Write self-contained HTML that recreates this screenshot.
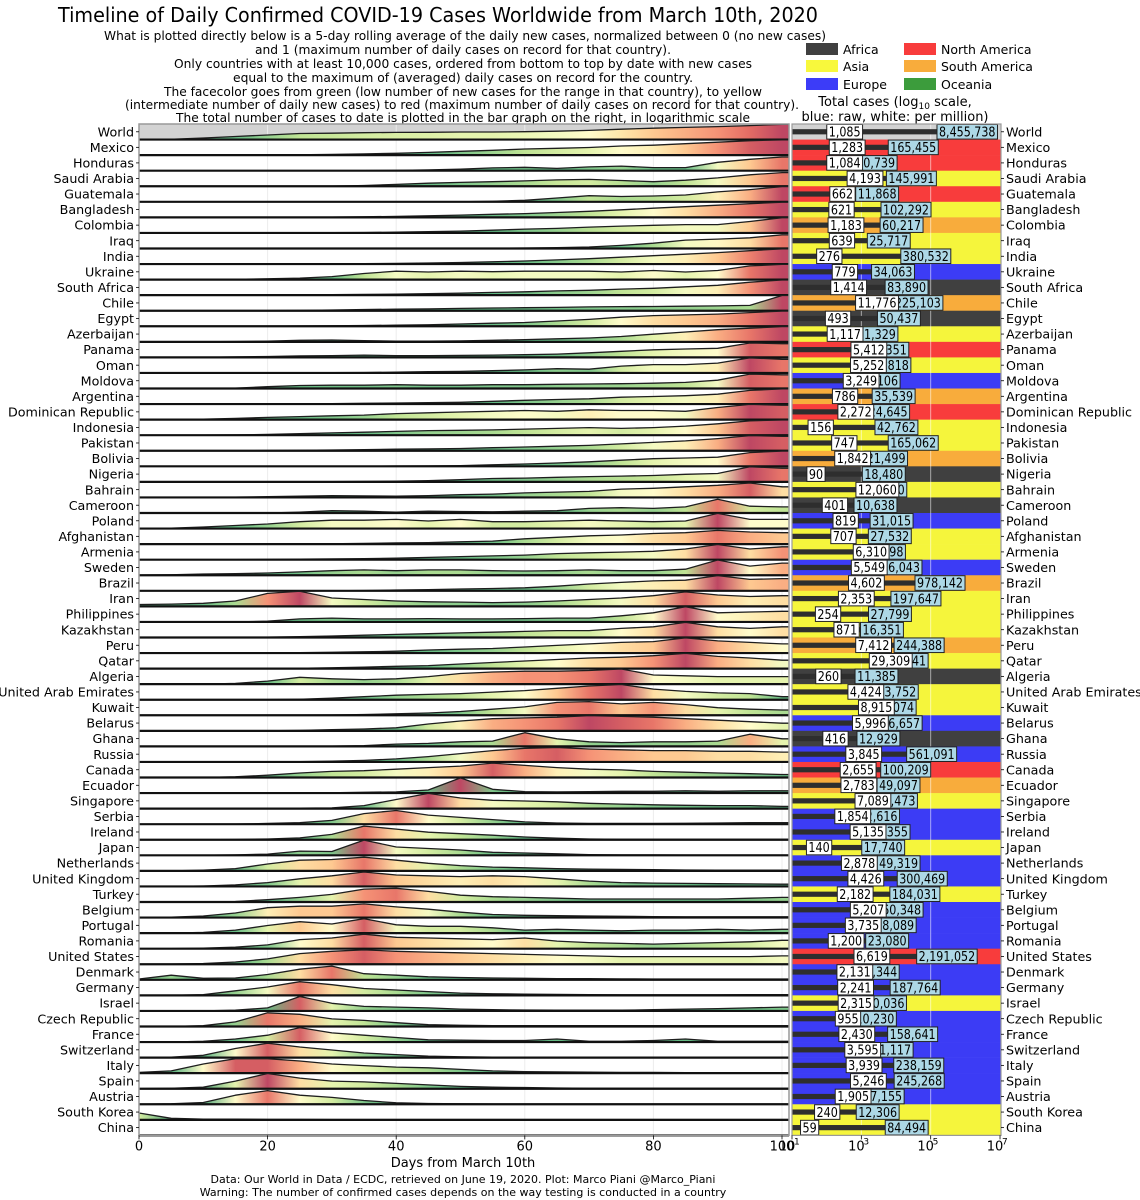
<!DOCTYPE html>
<html><head><meta charset="utf-8"><title>COVID-19 timeline</title>
<style>
html,body{margin:0;padding:0;background:#fff;}
svg{display:block;font-family:"DejaVu Sans","Liberation Sans",sans-serif;}
</style></head>
<body>
<svg id="chart" width="1140" height="1200" viewBox="0 0 1140 1200" xmlns="http://www.w3.org/2000/svg">
<text x="438" y="22" font-size="20" text-anchor="middle" textLength="760" lengthAdjust="spacingAndGlyphs">Timeline of Daily Confirmed COVID-19 Cases Worldwide from March 10th, 2020</text>
<g font-size="12.5" text-anchor="middle" fill="#000">
<text x="465" y="40" textLength="722" lengthAdjust="spacingAndGlyphs">What is plotted directly below is a 5-day rolling average of the daily new cases, normalized between 0 (no new cases)</text>
<text x="463" y="54" textLength="416" lengthAdjust="spacingAndGlyphs">and 1 (maximum number of daily cases on record for that country).</text>
<text x="463" y="68" textLength="578" lengthAdjust="spacingAndGlyphs">Only countries with at least 10,000 cases, ordered from bottom to top by date with new cases</text>
<text x="463" y="82" textLength="460" lengthAdjust="spacingAndGlyphs">equal to the maximum of (averaged) daily cases on record for the country.</text>
<text x="463" y="96" textLength="598" lengthAdjust="spacingAndGlyphs">The facecolor goes from green (low number of new cases for the range in that country), to yellow</text>
<text x="462" y="109" textLength="674" lengthAdjust="spacingAndGlyphs">(intermediate number of daily new cases) to red (maximum number of daily cases on record for that country).</text>
<text x="463" y="122" textLength="574" lengthAdjust="spacingAndGlyphs">The total number of cases to date is plotted in the bar graph on the right, in logarithmic scale</text>
</g>
<g font-size="12.5">
<rect x="806" y="43" width="32" height="12" fill="#404040"/>
<text x="843" y="54">Africa</text>
<rect x="904" y="43" width="32" height="12" fill="#f83c3c"/>
<text x="941" y="54">North America</text>
<rect x="806" y="60" width="32" height="12" fill="#f8f83c"/>
<text x="843" y="71">Asia</text>
<rect x="904" y="60" width="32" height="12" fill="#f8ac3c"/>
<text x="941" y="71">South America</text>
<rect x="806" y="78" width="32" height="12" fill="#3c3cf8"/>
<text x="843" y="89">Europe</text>
<rect x="904" y="78" width="32" height="12" fill="#3c9c3c"/>
<text x="941" y="89">Oceania</text>
<text x="895" y="106" font-size="13" text-anchor="middle">Total cases (log<tspan font-size="9" dy="3">10</tspan><tspan dy="-3"> scale,</tspan></text>
<text x="895" y="121" font-size="13" text-anchor="middle">blue: raw, white: per million)</text>
</g>
<g id="ridge"></g>
<g id="bars"></g>
<g id="axes"></g>
<text x="463" y="1167" font-size="13" text-anchor="middle">Days from March 10th</text>
<text x="463" y="1183" font-size="11" text-anchor="middle">Data: Our World in Data / ECDC, retrieved on June 19, 2020. Plot: Marco Piani @Marco_Piani</text>
<text x="463" y="1196" font-size="11" text-anchor="middle">Warning: The number of confirmed cases depends on the way testing is conducted in a country</text>
</svg>
<script>
const countries = ["World","Mexico","Honduras","Saudi Arabia","Guatemala","Bangladesh","Colombia","Iraq","India","Ukraine","South Africa","Chile","Egypt","Azerbaijan","Panama","Oman","Moldova","Argentina","Dominican Republic","Indonesia","Pakistan","Bolivia","Nigeria","Bahrain","Cameroon","Poland","Afghanistan","Armenia","Sweden","Brazil","Iran","Philippines","Kazakhstan","Peru","Qatar","Algeria","United Arab Emirates","Kuwait","Belarus","Ghana","Russia","Canada","Ecuador","Singapore","Serbia","Ireland","Japan","Netherlands","United Kingdom","Turkey","Belgium","Portugal","Romania","United States","Denmark","Germany","Israel","Czech Republic","France","Switzerland","Italy","Spain","Austria","South Korea","China"];
const continents = ["W","NA","NA","AS","NA","AS","SA","AS","AS","EU","AF","SA","AF","AS","NA","AS","EU","SA","NA","AS","AS","SA","AF","AS","AF","EU","AS","AS","EU","SA","AS","AS","AS","SA","AS","AF","AS","AS","EU","AF","EU","NA","SA","AS","EU","EU","AS","EU","EU","AS","EU","EU","EU","NA","EU","EU","AS","EU","EU","EU","EU","EU","EU","AS","AS"];
const perMillion = [1085,1283,1084,4193,662,621,1183,639,276,779,1414,11776,493,1117,5412,5252,3249,786,2272,156,747,1842,90,12060,401,819,707,6310,5549,4602,2353,254,871,7412,29309,260,4424,8915,5996,416,3845,2655,2783,7089,1854,5135,140,2878,4426,2182,5207,3735,1200,6619,2131,2241,2315,955,2430,3595,3939,5246,1905,240,59];
const totalCases = [8455738,165455,10739,145991,11868,102292,60217,25717,380532,34063,83890,225103,50437,11329,23351,26818,13106,35539,24645,42762,165062,21499,18480,20430,10638,31015,27532,18698,56043,978142,197647,27799,16351,244388,84441,11385,43752,38074,56657,12929,561091,100209,49097,41473,12616,25355,17740,49319,300469,184031,60348,38089,23080,2191052,12344,187764,20036,10230,158641,31117,238159,245268,17155,12306,84494];
const sampleDays = [0,5,10,15,20,25,30,35,40,45,50,55,60,65,70,75,80,85,90,95,100];
const dayTicks = [0,20,40,60,80,100];
const logTicks = [1,3,5,7];
const curves = [
[0,0.02,0.1,0.2,0.3,0.4,0.42,0.45,0.47,0.48,0.5,0.5,0.52,0.55,0.6,0.68,0.75,0.8,0.85,0.92,1.0],
[0,0,0,0,0,0.02,0.05,0.08,0.12,0.18,0.25,0.32,0.4,0.45,0.5,0.6,0.65,0.75,0.85,0.95,1],
[0,0,0,0,0,0,0,0,0.02,0.05,0.1,0.18,0.22,0.15,0.25,0.3,0.2,0.2,0.55,0.75,0.9],
[0,0,0,0,0,0,0,0.05,0.12,0.2,0.25,0.3,0.35,0.42,0.45,0.38,0.3,0.4,0.55,0.75,0.9],
[0,0,0,0,0,0,0,0,0,0,0,0.03,0.1,0.25,0.4,0.35,0.38,0.45,0.65,0.8,1],
[0,0,0,0,0,0,0.02,0.04,0.06,0.1,0.15,0.2,0.25,0.32,0.4,0.5,0.6,0.7,0.8,0.9,1],
[0,0,0,0,0,0.02,0.02,0.03,0.05,0.08,0.12,0.18,0.25,0.3,0.38,0.45,0.5,0.55,0.55,0.75,1],
[0,0,0,0,0,0,0.02,0.02,0.02,0.02,0.02,0.02,0.03,0.05,0.1,0.2,0.35,0.55,0.62,0.7,0.9],
[0,0,0,0,0,0,0.01,0.02,0.04,0.07,0.1,0.15,0.2,0.27,0.35,0.45,0.55,0.65,0.75,0.88,1],
[0,0,0,0.02,0.05,0.1,0.2,0.4,0.55,0.5,0.55,0.52,0.55,0.55,0.55,0.5,0.6,0.5,0.6,0.9,1],
[0,0,0,0,0,0.02,0.04,0.05,0.07,0.1,0.13,0.18,0.22,0.28,0.32,0.4,0.45,0.55,0.65,0.85,1],
[0,0,0,0,0,0.02,0.05,0.08,0.1,0.12,0.15,0.18,0.2,0.22,0.25,0.27,0.28,0.3,0.32,0.35,1],
[0,0,0,0,0,0.02,0.03,0.05,0.07,0.1,0.15,0.2,0.25,0.35,0.45,0.6,0.7,0.75,0.8,0.9,1],
[0,0,0,0.02,0.05,0.1,0.12,0.08,0.05,0.05,0.06,0.1,0.15,0.2,0.25,0.35,0.5,0.65,0.8,0.9,1],
[0,0,0,0.03,0.06,0.1,0.12,0.15,0.12,0.12,0.13,0.15,0.18,0.22,0.3,0.4,0.5,0.55,0.6,0.95,0.9],
[0,0,0,0,0,0.01,0.02,0.03,0.05,0.08,0.1,0.15,0.2,0.28,0.25,0.45,0.55,0.55,0.65,1,0.9],
[0,0,0,0.03,0.12,0.2,0.22,0.22,0.25,0.22,0.22,0.25,0.25,0.28,0.3,0.32,0.35,0.4,0.55,0.95,0.9],
[0,0,0,0,0,0.02,0.03,0.05,0.07,0.1,0.12,0.18,0.25,0.3,0.35,0.45,0.5,0.55,0.65,0.9,1],
[0,0,0.03,0.08,0.15,0.2,0.25,0.3,0.4,0.45,0.5,0.55,0.6,0.55,0.65,0.6,0.6,0.55,0.8,1,0.95],
[0,0,0,0.02,0.05,0.1,0.15,0.2,0.25,0.3,0.32,0.35,0.4,0.45,0.5,0.45,0.5,0.6,0.75,0.95,1],
[0,0,0,0,0.02,0.03,0.05,0.07,0.1,0.12,0.15,0.2,0.25,0.3,0.35,0.45,0.55,0.65,0.8,1,0.95],
[0,0,0,0,0,0,0,0,0.02,0.03,0.05,0.1,0.15,0.22,0.3,0.4,0.5,0.55,0.6,0.9,1],
[0,0,0,0,0,0,0.02,0.03,0.05,0.08,0.15,0.22,0.25,0.3,0.35,0.38,0.42,0.5,0.55,1,0.9],
[0,0,0,0.02,0.05,0.08,0.12,0.1,0.08,0.12,0.18,0.22,0.3,0.35,0.4,0.55,0.6,0.7,0.8,0.95,0.7],
[0,0,0,0,0,0.05,0.15,0.12,0.05,0.12,0.1,0.08,0.12,0.15,0.3,0.35,0.3,0.4,0.9,0.45,0.4],
[0,0.03,0.1,0.2,0.3,0.45,0.55,0.55,0.6,0.5,0.6,0.45,0.45,0.5,0.55,0.5,0.45,0.5,1,0.6,0.6],
[0,0,0,0,0,0.01,0.02,0.05,0.08,0.1,0.15,0.2,0.35,0.45,0.55,0.6,0.7,0.75,0.9,0.8,0.75],
[0,0,0,0,0.02,0.03,0.05,0.07,0.1,0.15,0.2,0.25,0.3,0.4,0.45,0.5,0.55,0.7,1,0.7,0.85],
[0,0.03,0.08,0.1,0.15,0.22,0.3,0.35,0.3,0.35,0.35,0.3,0.28,0.3,0.35,0.3,0.3,0.4,1,0.6,0.8],
[0,0,0,0,0,0,0,0.02,0.05,0.08,0.12,0.15,0.2,0.3,0.45,0.55,0.65,0.7,1,0.75,0.8],
[0.12,0.15,0.2,0.35,0.85,1,0.55,0.45,0.35,0.3,0.28,0.25,0.28,0.35,0.45,0.55,0.7,0.95,0.75,0.65,0.7],
[0,0,0,0,0.05,0.2,0.25,0.2,0.2,0.22,0.2,0.2,0.22,0.25,0.25,0.4,0.6,1,0.6,0.65,0.7],
[0,0,0,0,0.02,0.05,0.1,0.15,0.2,0.25,0.3,0.35,0.4,0.45,0.45,0.6,0.7,1,0.7,0.6,0.7],
[0,0,0,0,0,0.02,0.05,0.08,0.12,0.2,0.25,0.3,0.4,0.5,0.6,0.7,0.75,1,0.8,0.7,0.6],
[0,0,0,0,0,0.02,0.05,0.1,0.15,0.2,0.3,0.4,0.5,0.6,0.7,0.75,0.85,1,0.8,0.7,0.55],
[0,0,0,0.05,0.2,0.45,0.35,0.3,0.35,0.5,0.7,0.8,0.85,0.85,0.9,1,0.6,0.55,0.5,0.5,0.5],
[0,0,0,0,0,0.03,0.1,0.2,0.3,0.35,0.4,0.5,0.6,0.75,0.9,1,0.7,0.55,0.45,0.4,0.2],
[0,0,0,0,0,0.01,0.02,0.05,0.1,0.15,0.25,0.4,0.55,0.85,0.9,0.75,0.85,0.7,0.5,0.4,0.35],
[0,0,0,0,0,0.03,0.08,0.12,0.2,0.45,0.65,0.8,0.85,0.9,1,0.95,0.9,0.8,0.7,0.6,0.5],
[0,0,0,0,0,0,0.02,0.05,0.15,0.2,0.3,0.35,0.9,0.5,0.3,0.25,0.3,0.3,0.35,0.8,0.5],
[0,0,0,0,0,0.02,0.05,0.1,0.2,0.35,0.55,0.75,0.9,0.95,0.85,0.8,0.75,0.75,0.7,0.7,0.65],
[0,0,0,0.05,0.15,0.3,0.4,0.45,0.55,0.65,0.75,0.95,0.8,0.65,0.55,0.5,0.4,0.35,0.3,0.25,0.2],
[0,0,0,0,0,0,0.02,0.05,0.08,0.2,1,0.25,0.1,0.08,0.1,0.12,0.12,0.15,0.12,0.15,0.15],
[0,0,0,0,0.02,0.03,0.05,0.2,0.6,1,0.7,0.55,0.5,0.45,0.35,0.3,0.25,0.22,0.2,0.2,0.15],
[0,0,0,0,0.05,0.1,0.25,0.7,0.9,0.6,0.45,0.3,0.15,0.08,0.05,0.05,0.05,0.06,0.08,0.1,0.1],
[0,0,0,0.02,0.05,0.12,0.35,0.9,0.7,0.5,0.4,0.3,0.18,0.1,0.05,0.03,0.03,0.03,0.03,0.03,0.03],
[0,0,0,0.03,0.08,0.28,0.25,1,0.55,0.45,0.35,0.2,0.15,0.1,0.05,0.03,0.03,0.02,0.02,0.02,0.02],
[0,0,0.05,0.15,0.45,0.7,0.75,0.9,0.7,0.5,0.35,0.25,0.2,0.15,0.12,0.1,0.08,0.06,0.05,0.05,0.05],
[0,0,0.03,0.1,0.25,0.5,0.7,0.95,0.75,0.7,0.65,0.7,0.65,0.5,0.35,0.25,0.22,0.2,0.18,0.17,0.15],
[0,0,0,0.03,0.15,0.3,0.5,0.85,0.9,0.7,0.45,0.35,0.3,0.25,0.2,0.2,0.2,0.2,0.2,0.25,0.3],
[0,0.03,0.1,0.3,0.65,0.75,0.75,0.9,0.7,0.55,0.35,0.2,0.15,0.12,0.1,0.08,0.06,0.05,0.05,0.05,0.05],
[0,0,0.05,0.2,0.5,0.75,0.6,0.95,0.55,0.45,0.45,0.35,0.2,0.25,0.2,0.15,0.2,0.2,0.25,0.2,0.25],
[0,0,0.03,0.1,0.25,0.6,0.7,0.95,0.75,0.7,0.65,0.6,0.7,0.5,0.4,0.35,0.3,0.35,0.4,0.45,0.55],
[0,0,0.05,0.15,0.35,0.7,0.85,0.95,0.85,0.8,0.75,0.7,0.65,0.6,0.55,0.5,0.5,0.5,0.5,0.5,0.55],
[0.05,0.3,0.1,0.12,0.35,0.7,0.9,0.4,0.3,0.2,0.15,0.12,0.1,0.08,0.07,0.06,0.05,0.05,0.05,0.05,0.05],
[0,0,0.05,0.3,0.55,0.9,0.7,0.45,0.35,0.25,0.15,0.1,0.08,0.06,0.05,0.04,0.04,0.04,0.04,0.05,0.05],
[0,0,0,0.05,0.2,0.95,0.5,0.3,0.25,0.2,0.12,0.08,0.06,0.05,0.05,0.05,0.08,0.12,0.15,0.2,0.25],
[0,0,0.05,0.3,0.9,0.8,0.5,0.4,0.25,0.12,0.08,0.06,0.05,0.05,0.05,0.05,0.05,0.05,0.05,0.05,0.05],
[0,0,0.05,0.2,0.45,0.95,0.6,0.45,0.3,0.15,0.12,0.1,0.1,0.2,0.05,0.05,0.1,0.2,0.05,0.05,0.05],
[0,0.03,0.15,0.6,0.95,0.7,0.5,0.3,0.2,0.1,0.05,0.03,0.02,0.02,0.02,0.02,0.02,0.02,0.02,0.02,0.02],
[0.05,0.15,0.6,0.95,0.95,0.8,0.6,0.5,0.4,0.35,0.25,0.15,0.1,0.08,0.06,0.05,0.05,0.04,0.03,0.03,0.03],
[0,0.03,0.1,0.5,1,0.7,0.5,0.45,0.35,0.25,0.15,0.1,0.08,0.05,0.03,0.03,0.03,0.03,0.03,0.03,0.03],
[0,0.03,0.12,0.6,0.9,0.6,0.45,0.25,0.1,0.05,0.03,0.02,0.02,0.02,0.02,0.02,0.02,0.02,0.02,0.02,0.02],
[0.45,0.1,0.05,0.05,0.03,0.03,0.02,0.02,0.02,0.02,0.02,0.02,0.02,0.02,0.02,0.02,0.02,0.02,0.02,0.02,0.02],
[0.01,0.01,0.01,0.01,0.01,0.01,0.01,0.01,0.01,0.01,0.01,0.01,0.01,0.01,0.01,0.01,0.01,0.01,0.01,0.01,0.01]
];

const NS = "http://www.w3.org/2000/svg";
const PLOT_L = 139, PLOT_R = 789, PLOT_T = 124, ROW_H = 15.56;
const PLOT_B = PLOT_T + ROW_H * countries.length;
const BAR_L = 792, BAR_R = 1001, DEC = 34.67;
function xDay(d){ return PLOT_L + d * 6.43; }
function rowTop(i){ return PLOT_T + i * ROW_H; }
function yVal(v, i){ return rowTop(i) + ROW_H - v * 15.2; }
function xLog(v){ return BAR_L + (Math.log10(v) - 1) * DEC; }
const contColor = {W:"#d2d2d2",NA:"#f83c3c",SA:"#f8ac3c",AS:"#f5f53c",EU:"#3c3cf5",AF:"#404040"};
const cmapStops = ["#006837","#1a9850","#66bd63","#a6d96a","#d9ef8b","#ffffbf","#fee08b","#fdae61","#f46d43","#d73027","#a50026"];
function hex(h){ return [parseInt(h.substr(1,2),16),parseInt(h.substr(3,2),16),parseInt(h.substr(5,2),16)]; }
function cmap(v){
  v = Math.pow(Math.max(0, Math.min(1, v)), 1.3);
  const p = v * 10, k = Math.min(9, Math.floor(p)), t = p - k;
  const a = hex(cmapStops[k]), b = hex(cmapStops[k+1]);
  const al = 0.72;
  const c = a.map((x, j) => Math.round((x + (b[j] - x) * t) * al + 255 * (1 - al)));
  return "rgb(" + c.join(",") + ")";
}
function el(tag, attrs, parent){
  const e = document.createElementNS(NS, tag);
  for (const k in attrs) e.setAttribute(k, attrs[k]);
  parent.appendChild(e);
  return e;
}
function fmt(n){ return String(n).replace(/\B(?=(\d{3})+(?!\d))/g, ","); }

const svg = document.getElementById("chart");
const defs = el("defs", {}, svg);
const ridge = document.getElementById("ridge");
const bars = document.getElementById("bars");
const axes = document.getElementById("axes");

el("rect", {x:PLOT_L, y:PLOT_T, width:PLOT_R-PLOT_L, height:PLOT_B-PLOT_T, fill:"#fff"}, ridge);
el("rect", {x:PLOT_L, y:PLOT_T, width:PLOT_R-PLOT_L, height:ROW_H, fill:"#d3d3d3"}, ridge);
dayTicks.forEach(d => {
  const g = el("line", {x1:xDay(d), x2:xDay(d), y1:PLOT_T, y2:PLOT_B, stroke:"#ececec", "stroke-width":1}, ridge);
  
  
});

countries.forEach((name, i) => {
  const vals = curves[i];
  const gid = "grad" + i;
  const grad = el("linearGradient", {id:gid, gradientUnits:"userSpaceOnUse", x1:xDay(0), x2:xDay(100), y1:0, y2:0}, defs);
  vals.forEach((v, k) => { el("stop", {offset:(sampleDays[k]/100).toFixed(3), "stop-color":cmap(v)}, grad); });
  const base = rowTop(i) + ROW_H;
  const lastY = yVal(vals[vals.length-1], i).toFixed(1);
  const pts = vals.map((v, k) => xDay(sampleDays[k]).toFixed(1) + "," + yVal(v, i).toFixed(1)).concat([PLOT_R + "," + lastY]);
  const g = el("g", {}, ridge);
  
  
  const poly = pts.concat([PLOT_R+","+base, xDay(0).toFixed(1)+","+base]);
  const area = el("polygon", {points:poly.join(" "), fill:"url(#"+gid+")"}, g);
  
  
  const line = el("polyline", {points:pts.join(" "), fill:"none", stroke:"#1e1e1e", "stroke-width":1.3, "stroke-linejoin":"round"}, g);
  
  
  const bl = el("line", {x1:PLOT_L, x2:PLOT_R, y1:base, y2:base, stroke:"#111", "stroke-width":2.2}, g);
  
  
  const lab = el("text", {x:PLOT_L-5, y:rowTop(i)+ROW_H/2+4.6, "font-size":12.7, "text-anchor":"end"}, axes);
  lab.textContent = name;
  
  
  el("line", {x1:PLOT_L-3, x2:PLOT_L, y1:rowTop(i)+ROW_H/2, y2:rowTop(i)+ROW_H/2, stroke:"#000", "stroke-width":0.8}, axes);
});
el("rect", {x:PLOT_L, y:PLOT_T, width:PLOT_R-PLOT_L, height:PLOT_B-PLOT_T, fill:"none", stroke:"#999", "stroke-width":1.5}, ridge);

dayTicks.forEach(d => {
  el("line", {x1:xDay(d), x2:xDay(d), y1:PLOT_B, y2:PLOT_B+4, stroke:"#000", "stroke-width":0.8}, axes);
  const t = el("text", {x:xDay(d), y:PLOT_B+15, "font-size":13, "text-anchor":"middle"}, axes);
  t.textContent = d;
  
  
});

countries.forEach((name, i) => {
  const top = rowTop(i);
  const band = el("rect", {x:BAR_L, y:top, width:BAR_R-BAR_L, height:ROW_H+0.3, fill:contColor[continents[i]]}, bars);
  
  
});
logTicks.slice(1, 3).forEach(p => {
  el("line", {x1:xLog(Math.pow(10,p)), x2:xLog(Math.pow(10,p)), y1:PLOT_T, y2:PLOT_B, stroke:"rgba(255,255,255,0.55)", "stroke-width":1}, bars);
});
countries.forEach((name, i) => {
  const top = rowTop(i), cy = top + ROW_H/2;
  const tx = xLog(totalCases[i]);
  const bar = el("rect", {x:BAR_L, y:cy-2.6, width:tx-BAR_L, height:5.2, fill:"#2e2e2e"}, bars);
  
  
  [[totalCases[i], "#add8e6", 'raw-cases-label'], [perMillion[i], "#ffffff", 'per-million-label']].forEach(([val, fill, nm]) => {
    const s = fmt(val);
    const digits = s.replace(/,/g, "").length, commas = s.length - digits;
    const tw = digits * 7.1 + commas * 3.4;
    const w = tw + 4;
    const r = xLog(val);
    const box = el("rect", {x:r-w, y:cy-7.3, width:w, height:14.6, fill:fill, stroke:"#222", "stroke-width":1}, bars);
    
    
    const t = el("text", {x:r-w+2, y:cy+4.7, "font-size":13, textLength:tw.toFixed(1), lengthAdjust:"spacingAndGlyphs"}, bars);
    t.textContent = s;
    
    
  });
  const lab = el("text", {x:BAR_R+5, y:cy+4.6, "font-size":12.7}, axes);
  lab.textContent = name;
  
  
  el("line", {x1:BAR_R, x2:BAR_R+3, y1:cy, y2:cy, stroke:"#000", "stroke-width":0.8}, axes);
});
el("rect", {x:BAR_L, y:PLOT_T, width:BAR_R-BAR_L, height:PLOT_B-PLOT_T, fill:"none", stroke:"#999", "stroke-width":1.2}, bars);
logTicks.forEach(p => {
  const x = xLog(Math.pow(10, p));
  el("line", {x1:x, x2:x, y1:PLOT_B, y2:PLOT_B+4, stroke:"#000", "stroke-width":0.8}, axes);
  const t = el("text", {x:x-5, y:PLOT_B+15, "font-size":13, "text-anchor":"middle"}, axes);
  t.textContent = "10";
  
  
  const sup = el("text", {x:x+2, y:PLOT_B+9, "font-size":9, "text-anchor":"start"}, axes);
  sup.textContent = p;
  
  
});
</script>
</body></html>
